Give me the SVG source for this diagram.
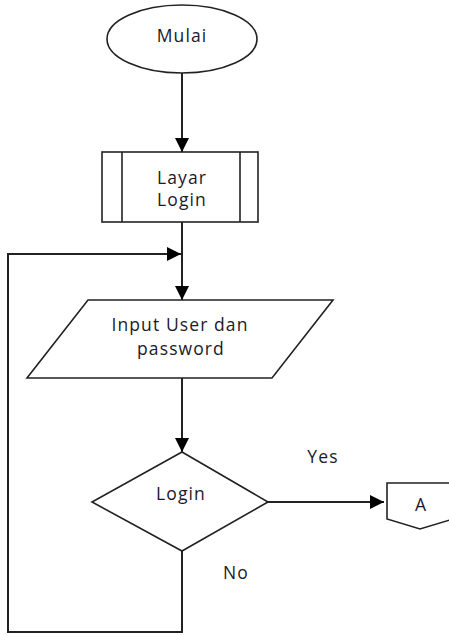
<svg xmlns="http://www.w3.org/2000/svg" width="449" height="635" viewBox="0 0 449 635">
<style>
.shape{fill:#fff;stroke:#222;stroke-width:1.6}
.conn{fill:none;stroke:#222;stroke-width:2}
text{font-family:"Open Sans","Liberation Sans",sans-serif;font-size:17.5px;font-weight:500;fill:#1a1a2a;letter-spacing:1.1px;text-anchor:middle}
</style>
<defs>
<marker id="arr" markerUnits="userSpaceOnUse" markerWidth="16" markerHeight="16" viewBox="0 0 16 16" refX="14" refY="8" orient="auto">
<path d="M0,1 L14,8 L0,15 Z" fill="#000"/>
</marker>
</defs>
<rect width="449" height="635" fill="#fff"/>
<g id="connectors">
<line class="conn" x1="182" y1="73" x2="182" y2="152" marker-end="url(#arr)"/>
<line class="conn" x1="182" y1="222" x2="182" y2="300" marker-end="url(#arr)"/>
<line class="conn" x1="182" y1="378" x2="182" y2="452" marker-end="url(#arr)"/>
<line class="conn" x1="268" y1="502" x2="384" y2="502" marker-end="url(#arr)"/>
<polyline class="conn" points="182,551 182,632 8,632 8,254 181,254" marker-end="url(#arr)"/>
<text x="323" y="463">Yes</text>
<text x="236" y="579">No</text>
</g>
<g id="mulai">
<ellipse class="shape" cx="182" cy="39" rx="75" ry="34"/>
<text x="182" y="42">Mulai</text>
</g>
<g id="layar-login">
<rect class="shape" x="102" y="152" width="156" height="70"/>
<line class="shape" x1="122" y1="152" x2="122" y2="222"/>
<line class="shape" x1="240" y1="152" x2="240" y2="222"/>
<text x="182" y="184">Layar</text>
<text x="182" y="206">Login</text>
</g>
<g id="input">
<polygon class="shape" points="88,300 333,300 272,378 27,378"/>
<text x="180" y="331">Input User dan</text>
<text x="181" y="355">password</text>
</g>
<g id="decision">
<polygon class="shape" points="182,452 268,502 182,551 92,502"/>
<text x="181" y="500">Login</text>
</g>
<g id="offpage-a">
<polygon class="shape" points="387,483 453,483 453,519 420,529 387,519"/>
<text x="421" y="511">A</text>
</g>
</svg>
